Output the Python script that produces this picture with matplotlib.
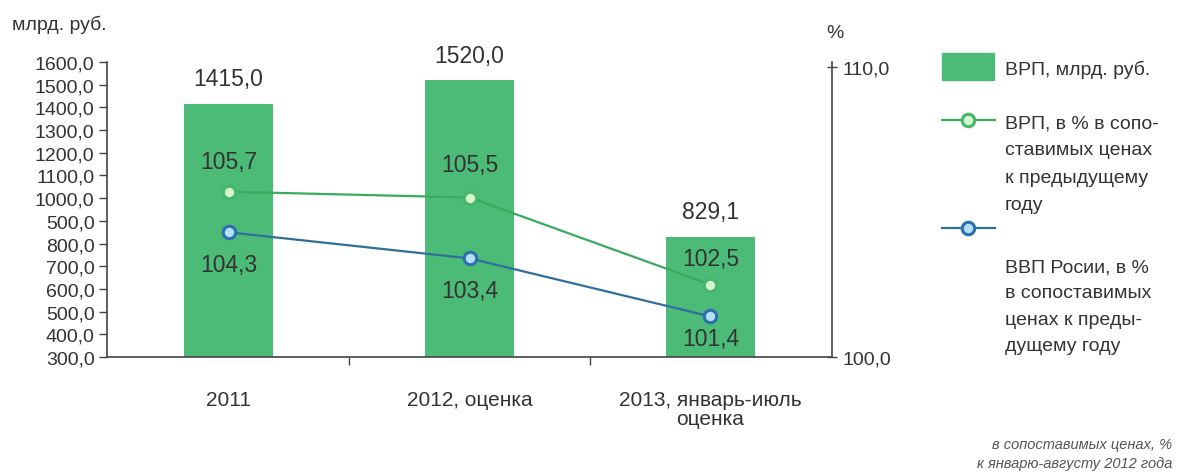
import numpy as np
import matplotlib.pyplot as plt
from matplotlib.patches import Rectangle
from matplotlib.lines import Line2D

plt.rcParams['font.family'] = ['Liberation Sans', 'DejaVu Sans']

# data
cats = ["2011", "2012, оценка", "2013, январь-июль\nоценка"]
grp_bn = [1415.0, 1520.0, 829.1]      # ВРП, млрд. руб.
grp_pct = [105.7, 105.5, 102.5]       # ВРП, % к предыдущему году
gdp_pct = [104.3, 103.4, 101.4]       # ВВП России, % к предыдущему году
left_ticks = np.arange(300, 1700, 100)
left_labels = ["300,0", "400,0", "500,0", "600,0", "700,0", "800,0", "500,0",
               "1000,0", "1100,0", "1200,0", "1300,0", "1400,0", "1500,0", "1600,0"]
right_ticks = [100, 110]
right_labels = ["100,0", "110,0"]

# label offsets (points)
grp_off = [22, 24, 19]
gdp_off = [-23, -23, -16]

bar_c = '#4cbb77'
grn_c = '#3aaa5e'
blu_c = '#2f6f9a'
txt_c = '#333333'
ax_c = '#444444'

def fmt(v):
    return f"{v:.1f}".replace('.', ',')

W, H = 1179, 477
fig = plt.figure(figsize=(W / 100, H / 100), dpi=100)
ax = fig.add_axes([107 / W, 1 - 358 / H, (832 - 107) / W, (358 - 63) / H])
ax2 = ax.twinx()

x = np.arange(len(cats))
ax.bar(x, grp_bn, width=0.37, color=bar_c, zorder=1)
ax.set_xlim(-0.505, 2.505)
ax.set_ylim(300, 1600)
ax.set_yticks(left_ticks)
ax.set_yticklabels(left_labels)
ax.tick_params(axis='y', direction='out', length=6, width=1, color=ax_c,
               labelsize=14, labelcolor=txt_c, pad=3)
ax.set_xticks([0.5, 1.5])
ax.set_xticklabels([])
ax.tick_params(axis='x', direction='out', length=6, width=1, color=ax_c)
ax.set_xticks(x, minor=True)
ax.set_xticklabels(cats, minor=True, fontsize=15, color=txt_c, linespacing=1.0)
ax.tick_params(axis='x', which='minor', length=0, pad=24)
for s in ['top', 'right']:
    ax.spines[s].set_visible(False)
for s in ['left', 'bottom']:
    ax.spines[s].set_color(ax_c)
    ax.spines[s].set_linewidth(1.2)

for xi, v in zip(x, grp_bn):
    ax.annotate(fmt(v), (xi, v), xytext=(0, 18), textcoords='offset points',
                ha='center', va='center', fontsize=16.5, color=txt_c)

ax2.plot(x, grp_pct, color=grn_c, lw=1.6, marker='o', ms=9,
         mfc='#d4f5d0', mec='#45b868', mew=2.2, zorder=3)
ax2.plot(x, gdp_pct, color=blu_c, lw=1.6, marker='o', ms=9,
         mfc='#b2e0f7', mec='#2b6fae', mew=2.2, zorder=3)
ax2.set_ylim(100, 110 + 5 / 29)
ax2.set_yticks(right_ticks)
ax2.set_yticklabels(right_labels)
ax2.tick_params(axis='y', direction='inout', length=7, width=1, color=ax_c,
                labelsize=14, labelcolor=txt_c, pad=4)
for s in ['top', 'left', 'bottom']:
    ax2.spines[s].set_visible(False)
ax2.spines['right'].set_color(ax_c)
ax2.spines['right'].set_linewidth(1.2)

for xi, v, o in zip(x, grp_pct, grp_off):
    ax2.annotate(fmt(v), (xi, v), xytext=(0, o), textcoords='offset points',
                 ha='center', va='center', fontsize=16.5, color=txt_c)
for xi, v, o in zip(x, gdp_pct, gdp_off):
    ax2.annotate(fmt(v), (xi, v), xytext=(0, o), textcoords='offset points',
                 ha='center', va='center', fontsize=16.5, color=txt_c)

# axis titles
fig.text(12 / W, 1 - 25 / H, "млрд. руб.", fontsize=14, color=txt_c,
         ha='left', va='center')
fig.text(835 / W, 1 - 33 / H, "%", fontsize=14, color=txt_c,
         ha='center', va='center')

# legend drawn by hand
fig.add_artist(Rectangle((942 / W, 1 - 81 / H), 52 / W, 27 / H,
                         transform=fig.transFigure, color=bar_c))
fig.text(1005 / W, 1 - 70 / H, "ВРП, млрд. руб.", fontsize=14, color=txt_c,
         ha='left', va='center')
fig.add_artist(Line2D([942 / W, 995 / W], [1 - 121 / H] * 2, transform=fig.transFigure,
                      color=grn_c, lw=1.6))
fig.add_artist(Line2D([968 / W], [1 - 121 / H], transform=fig.transFigure, marker='o',
                      ms=9, mfc='#d4f5d0', mec='#45b868', mew=2.2))
fig.text(1005 / W, 1 - 164.5 / H,
         "ВРП, в % в сопо-\nставимых ценах\nк предыдущему\nгоду",
         fontsize=14, color=txt_c, ha='left', va='center', linespacing=1.78)
fig.add_artist(Line2D([942 / W, 995 / W], [1 - 229 / H] * 2, transform=fig.transFigure,
                      color=blu_c, lw=1.6))
fig.add_artist(Line2D([968 / W], [1 - 229 / H], transform=fig.transFigure, marker='o',
                      ms=9, mfc='#b2e0f7', mec='#2b6fae', mew=2.2))
fig.text(1005 / W, 1 - 307 / H,
         "ВВП Росии, в %\nв сопоставимых\nценах к преды-\nдущему году",
         fontsize=14, color=txt_c, ha='left', va='center', linespacing=1.7)

# footnote
fig.text(1172 / W, 1 - 445 / H, "в сопоставимых ценах, %", fontsize=10.5,
         style='italic', color='#555555', ha='right', va='center')
fig.text(1172 / W, 1 - 464 / H, "к январю-августу 2012 года", fontsize=10.5,
         style='italic', color='#555555', ha='right', va='center')

fig.savefig('out.png', dpi=100)
